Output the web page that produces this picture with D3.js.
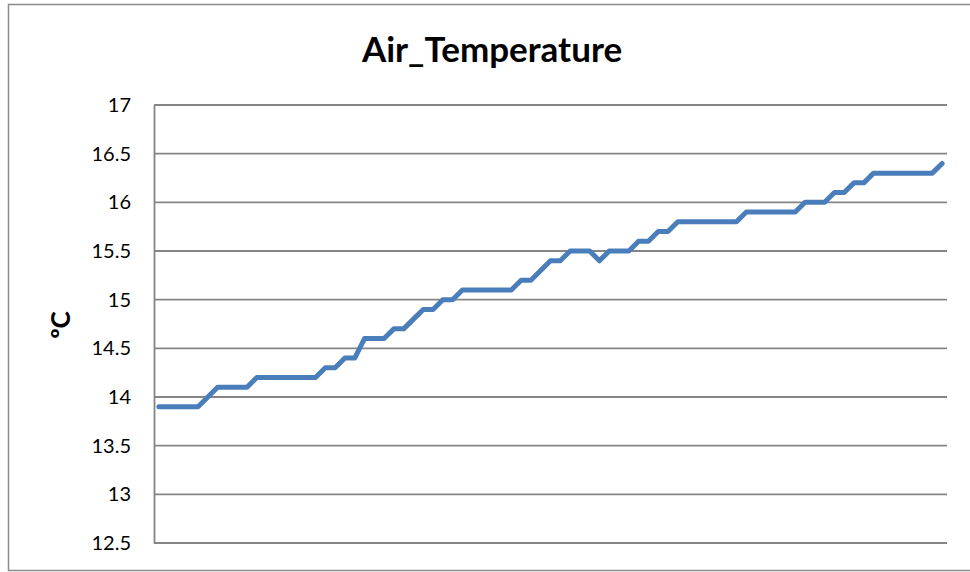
<!DOCTYPE html>
<html>
<head>
<meta charset="utf-8">
<title>Air_Temperature</title>
<script src="https://d3js.org/d3.v7.min.js"></script>
<style>
  body { margin: 0; background: #fff; }
  svg { display: block; font-family: Lato, "Open Sans", sans-serif; }
</style>
</head>
<body>
<div id="container"></div>
<script>
// Data
const title = "Air_Temperature"
const yLabel = "ºC"
const yTicks = [12.5, 13, 13.5, 14, 14.5, 15, 15.5, 16, 16.5, 17]
const temperature = [
  13.9, 13.9, 13.9, 13.9, 13.9, 14.0, 14.1, 14.1, 14.1, 14.1,
  14.2, 14.2, 14.2, 14.2, 14.2, 14.2, 14.2, 14.3, 14.3, 14.4,
  14.4, 14.6, 14.6, 14.6, 14.7, 14.7, 14.8, 14.9, 14.9, 15.0,
  15.0, 15.1, 15.1, 15.1, 15.1, 15.1, 15.1, 15.2, 15.2, 15.3,
  15.4, 15.4, 15.5, 15.5, 15.5, 15.4, 15.5, 15.5, 15.5, 15.6,
  15.6, 15.7, 15.7, 15.8, 15.8, 15.8, 15.8, 15.8, 15.8, 15.8,
  15.9, 15.9, 15.9, 15.9, 15.9, 15.9, 16.0, 16.0, 16.0, 16.1,
  16.1, 16.2, 16.2, 16.3, 16.3, 16.3, 16.3, 16.3, 16.3, 16.3,
  16.4
]
const categories = temperature.map((d, i) => i + 1)

const w = 970
const h = 572
const plot = { left: 154, right: 947, top: 105, bottom: 543 }

const svg = d3.select("#container")
  .append("svg")
  .attr("width", w)
  .attr("height", h)

// chart frame
svg.append("rect")
  .attr("x", 8.5)
  .attr("y", 4.5)
  .attr("width", 990)
  .attr("height", 566)
  .attr("fill", "none")
  .attr("stroke", "#8c8c8c")
  .attr("stroke-width", 1.5)

const xScale = d3.scalePoint()
  .domain(categories)
  .range([plot.left, plot.right])
  .padding(0.5)

const yScale = d3.scaleLinear()
  .domain([12.5, 17])
  .range([plot.bottom, plot.top])

// gridlines
svg.append("g")
  .selectAll("line")
  .data(yTicks)
  .enter()
  .append("line")
  .attr("x1", plot.left)
  .attr("x2", plot.right)
  .attr("y1", d => yScale(d))
  .attr("y2", d => yScale(d))
  .attr("stroke", "#858585")
  .attr("stroke-width", 1.8)

// y axis
const yAxis = d3.axisLeft(yScale)
  .tickValues(yTicks)
  .tickFormat(d => String(d))
  .tickSize(0)
  .tickPadding(23)

const gy = svg.append("g")
  .attr("transform", `translate(${plot.left},0)`)
  .call(yAxis)
gy.select(".domain")
  .attr("stroke", "#858585")
  .attr("stroke-width", 1.8)
gy.selectAll("text")
  .attr("font-family", "Lato, sans-serif")
  .attr("font-size", 20)
  .attr("fill", "#000")

// line
const line = d3.line()
  .x((d, i) => xScale(categories[i]))
  .y(d => yScale(d))

svg.append("path")
  .datum(temperature)
  .attr("d", line)
  .attr("fill", "none")
  .attr("stroke", "#4a7ebb")
  .attr("stroke-width", 5)
  .attr("stroke-linejoin", "round")
  .attr("stroke-linecap", "round")

// title
svg.append("text")
  .attr("x", 492)
  .attr("y", 62)
  .attr("text-anchor", "middle")
  .attr("font-size", 35)
  .attr("font-weight", "bold")
  .text(title)

// y label
svg.append("text")
  .attr("transform", "translate(70,325) rotate(-90)")
  .attr("text-anchor", "middle")
  .attr("font-size", 26)
  .attr("font-weight", "bold")
  .text(yLabel)
</script>
</body>
</html>
